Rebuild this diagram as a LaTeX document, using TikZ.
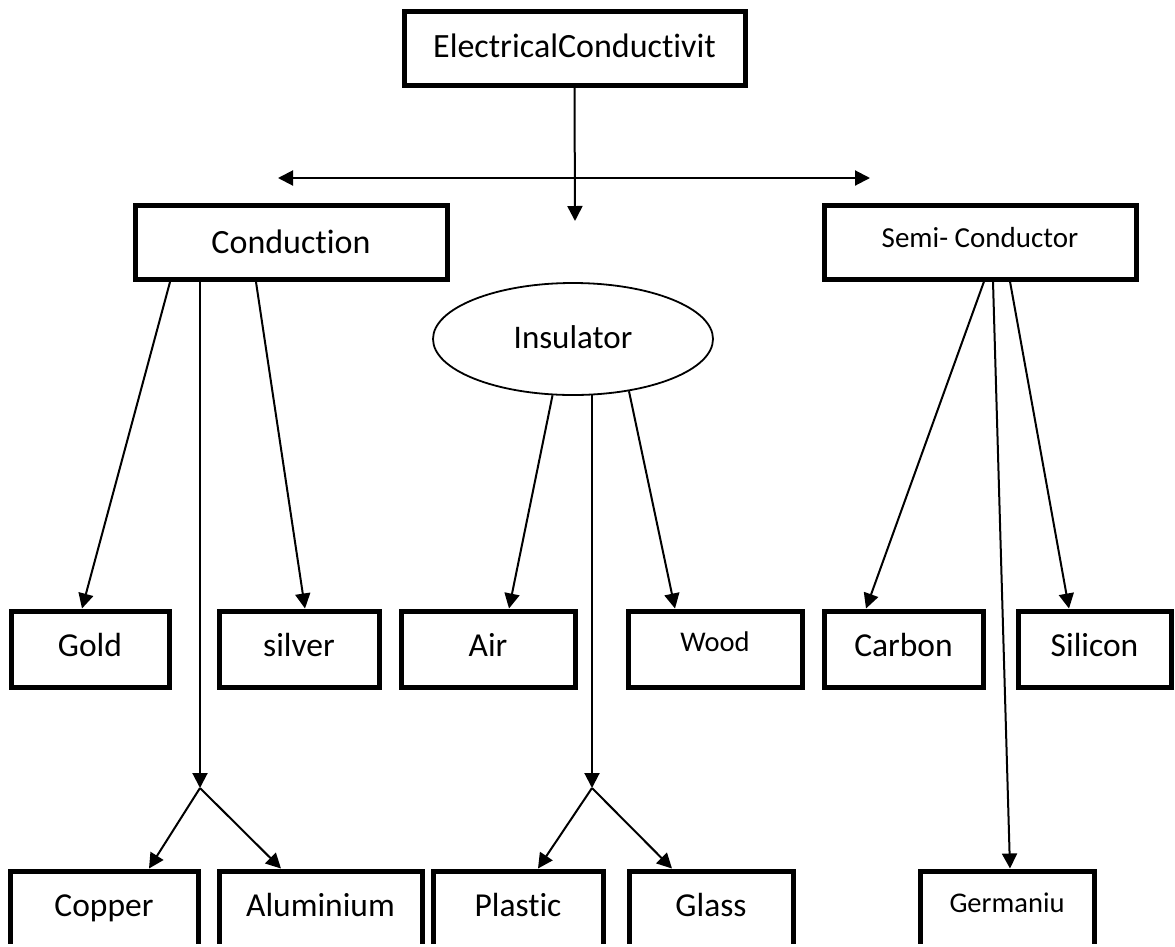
\documentclass[tikz,border=0pt]{standalone}
\usepackage{fontspec}
\setmainfont{Carlito}[RawFeature={-liga;-clig}]
\usetikzlibrary{arrows.meta,shapes.geometric}
\begin{document}
\begin{tikzpicture}[x=1pt,y=-1pt,
  box/.style={draw,line width=5pt,rectangle,inner sep=0pt,minimum height=74pt,text height=22pt,text depth=7pt},
  lowbox/.style={box,minimum height=76pt},
  fbig/.style={font=\fontsize{34}{40}\selectfont},
  fmid/.style={font=\fontsize{33.5}{40}\selectfont},
  fsmall/.style={font=\fontsize{28.5}{34}\selectfont},
  fsemi/.style={font=\fontsize{29}{35}\selectfont},
  conn/.style={line width=2pt,-{Triangle[length=15pt,width=15pt]}},
  plain/.style={line width=2pt}]
\useasboundingbox (0,0) rectangle (1175,946);
\clip (0,0) rectangle (1175,943);
% top level
\node[box,fbig,minimum width=341pt,text depth=4pt] (ec) at (574.5,48.5) {ElectricalConductivit};
\node[box,fbig,minimum width=312pt,text depth=1pt] (cond) at (291,242.5) {Conduction};
\node[box,fsemi,minimum width=312pt,text depth=11.4pt] (semi) at (980,242) {Semi- Conductor};
\node[draw,ellipse,line width=1.8pt,inner sep=0pt,minimum width=280pt,minimum height=112pt,text height=22pt,text depth=4pt,font=\fontsize{33}{40}\selectfont] (insul) at (573,339) {Insulator};
% middle row
\node[lowbox,fmid,minimum width=158pt] (gold) at (90,649) {Gold};
\node[lowbox,fmid,minimum width=160pt] (silver) at (299,649) {silver};
\node[lowbox,fmid,minimum width=174pt] (air) at (488,649) {Air};
\node[lowbox,fsmall,minimum width=174pt,text depth=17.6pt] (wood) at (715,649) {Wood};
\node[lowbox,fmid,minimum width=159pt] (carbon) at (903.5,649) {Carbon};
\node[lowbox,fmid,minimum width=153pt] (silicon) at (1094.5,649) {Silicon};
% bottom row
\node[lowbox,fmid,minimum width=188pt] (copper) at (104,909) {Copper};
\node[lowbox,fmid,minimum width=203pt] (alu) at (320.5,909) {Aluminium};
\node[lowbox,fmid,minimum width=170pt] (plastic) at (518,909) {Plastic};
\node[lowbox,fmid,minimum width=164pt] (glass) at (711,909) {Glass};
\node[lowbox,fsmall,minimum width=174pt,text depth=15.6pt] (germ) at (1007,909) {Germaniu};
% helper coordinates
\coordinate (hl) at (278,178);
\coordinate (hr) at (870,178);
\coordinate (ecend) at (575,221);
\coordinate (j1) at (200,788);
\coordinate (j2) at (592,788);
% connectors
\draw[plain,{Triangle[length=15pt,width=15pt]}-{Triangle[length=15pt,width=15pt]}] (hl) -- (hr);
\draw[conn] (ec.south) -- (ecend);
\draw[conn] ([xshift=-121pt]cond.south) -- ([xshift=-8pt]gold.north);
\draw[conn] (j1 |- cond.south) -- (j1);
\draw[conn] ([xshift=-35pt]cond.south) -- ([xshift=6pt]silver.north);
\draw[conn] (j1) -- ([xshift=45pt]copper.north);
\draw[conn] (j1) -- ([xshift=-39.5pt]alu.north);
\draw[conn] (insul.-110) -- ([xshift=21pt]air.north);
\draw[conn] (j2 |- insul.-71) -- (j2);
\draw[conn] (insul.-43) -- ([xshift=-40pt]wood.north);
\draw[conn] (j2) -- ([xshift=20pt]plastic.north);
\draw[conn] (j2) -- ([xshift=-39pt]glass.north);
\draw[conn] ([xshift=4pt]semi.south) -- ([xshift=-37.5pt]carbon.north);
\draw[conn] ([xshift=13pt]semi.south) -- ([xshift=3pt]germ.north);
\draw[conn] ([xshift=30pt]semi.south) -- ([xshift=-25.5pt]silicon.north);
\end{tikzpicture}
\end{document}
